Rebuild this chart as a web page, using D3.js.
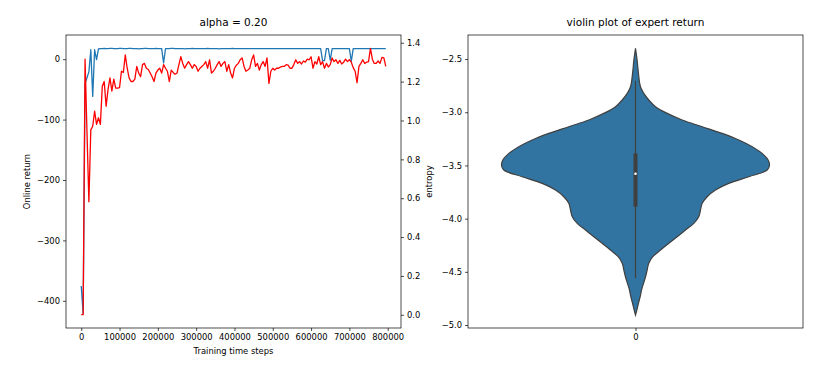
<!DOCTYPE html>
<html>
<head>
<meta charset="utf-8">
<script src="https://cdn.jsdelivr.net/npm/d3@7"></script>
<style>
  body { margin: 0; background: #fff; }
  svg text { font-family: "DejaVu Sans", sans-serif; fill: #000; }
</style>
</head>
<body>
<svg id="chart" width="831" height="370"></svg>
<script>
// ---- data ----
const stepSize = 5000;

// red line, left axis (Online return), one value every 5000 steps
const onlineReturn = [
  -423, -423, 0, -120, -236, -117, -111, -86, -108, -97,
  -108, -45, -37, -78, -50, -31, -53, -33, -48, -48,
  -47, -20, -22, 7, -15, -31, -37, -37, -33, -12,
  -23, -29, -9, -7, -15, -17, -23, -29, -37, -23,
  -18, -15, -23, -9, -15, -20, -37, -18, -22, -25,
  -23, -9, 4, -7, -15, -9, -4, -9, -15, -9,
  -12, -20, -15, -12, -9, -4, -15, -1, -23, -20,
  -15, -9, -4, -12, -7, -4, -20, -9, -23, -31,
  -15, -10, -7, -1, 2, -12, -20, -18, -15, -1,
  7, -12, -7, -18, -9, -4, -12, 2, -40, -20,
  -15, -18, -15, -15, -13, -12, -12, -9, -10, -15,
  -15, -9, -1, -7, -4, -8, -3, -5, 0, -1,
  4, -15, -4, -8, 4, -9, -4, -15, -7, -13,
  -9, 2, -4, -1, -7, -2, -8, -5, 0, -4,
  -1, -5, -14, -20, -39, -12, -7, -1, -7, -5,
  -4, 18, 0, -7, -7, -3, -7, 3, 2, -12
];

// blue line, right axis (entropy)
const entropy = [
  0.148, 0.007, 1.19, 1.22, 1.25, 1.364, 1.124, 1.364, 1.313, 1.368,
  1.370, 1.370, 1.371, 1.370, 1.370, 1.371, 1.371, 1.370, 1.370, 1.370,
  1.371, 1.371, 1.370, 1.370, 1.370, 1.371, 1.371, 1.370, 1.370, 1.370,
  1.369, 1.370, 1.370, 1.371, 1.371, 1.370, 1.370, 1.370, 1.370, 1.371,
  1.370, 1.370, 1.370, 1.296, 1.370, 1.370, 1.370, 1.371, 1.371, 1.370,
  1.370, 1.370, 1.370, 1.370, 1.369, 1.370, 1.370, 1.370, 1.371, 1.370,
  1.370, 1.370, 1.370, 1.370, 1.370, 1.370, 1.371, 1.370, 1.370, 1.370,
  1.370, 1.370, 1.369, 1.370, 1.370, 1.370, 1.370, 1.370, 1.370, 1.371,
  1.370, 1.370, 1.370, 1.370, 1.370, 1.370, 1.370, 1.370, 1.370, 1.370,
  1.370, 1.370, 1.370, 1.370, 1.370, 1.370, 1.370, 1.370, 1.370, 1.370,
  1.370, 1.370, 1.370, 1.370, 1.370, 1.370, 1.370, 1.370, 1.370, 1.370,
  1.370, 1.370, 1.370, 1.370, 1.370, 1.370, 1.370, 1.370, 1.370, 1.370,
  1.370, 1.370, 1.370, 1.370, 1.370, 1.370, 1.308, 1.308, 1.370, 1.370,
  1.310, 1.370, 1.370, 1.370, 1.370, 1.370, 1.370, 1.370, 1.370, 1.370,
  1.370, 1.304, 1.370, 1.370, 1.370, 1.370, 1.370, 1.370, 1.370, 1.370,
  1.370, 1.370, 1.370, 1.370, 1.370, 1.370, 1.370, 1.370, 1.370, 1.370
];

const stepTicks = [0, 100000, 200000, 300000, 400000, 500000, 600000, 700000, 800000];
const returnTicks = [-400, -300, -200, -100, 0];
const entropyTicks = [0, 0.2, 0.4, 0.6, 0.8, 1.0, 1.2, 1.4];

// violin of expert return: outline (value, relative density)
const violinValues = [
  -2.400, -2.509, -2.635, -2.760, -2.823, -2.885, -2.948, -3.011, -3.073, -3.136,
  -3.199, -3.261, -3.324, -3.387, -3.449, -3.496, -3.543, -3.606, -3.669, -3.731,
  -3.794, -3.856, -3.919, -3.982, -4.044, -4.107, -4.170, -4.232, -4.295, -4.358,
  -4.420, -4.483, -4.546, -4.608, -4.671, -4.734, -4.796, -4.859, -4.906
];
const violinDensity = [
  0, 0.012, 0.022, 0.037, 0.062, 0.099, 0.149, 0.237, 0.348, 0.498,
  0.647, 0.771, 0.871, 0.945, 0.990, 1.000, 0.983, 0.846, 0.696, 0.597,
  0.535, 0.498, 0.485, 0.472, 0.435, 0.373, 0.311, 0.249, 0.187, 0.129,
  0.099, 0.087, 0.075, 0.060, 0.045, 0.035, 0.022, 0.010, 0
];
const boxQuartiles = [-3.888, -3.578, -3.387];   // q1, median, q3
const boxWhiskers = [-4.561, -2.704];
const violinTicks = [-2.5, -3.0, -3.5, -4.0, -4.5, -5.0];
const violinCategories = ['0'];

// ---- layout ----
const svg = d3.select('#chart');
const left = { x0: 66, x1: 401, y0: 35, y1: 328 };
const right = { x0: 468, x1: 803, y0: 35, y1: 328 };
const fmtInt = d3.format('d');
const tickFont = 8.4;
const titleFont = 10.5;
const tickLen = 3;
const tickPad = 3;

function styleAxis(g) {
  g.select('.domain').remove();
  g.selectAll('.tick line').attr('stroke', '#000').attr('stroke-width', 0.7);
  g.selectAll('.tick text').attr('font-size', tickFont)
    .attr('font-family', '"DejaVu Sans", sans-serif').attr('fill', '#222');
}

// ---- left panel ----
const x = d3.scaleLinear().domain([-39750, 834750]).range([left.x0, left.x1]);
const yRet = d3.scaleLinear().domain([-445, 40]).range([left.y1, left.y0]);
const yEnt = d3.scaleLinear().domain([-0.068, 1.44]).range([left.y1, left.y0]);

svg.append('defs').append('clipPath').attr('id', 'clipL')
  .append('rect').attr('x', left.x0).attr('y', left.y0)
  .attr('width', left.x1 - left.x0).attr('height', left.y1 - left.y0);

const lineEnt = d3.line().x((d, i) => x(i * stepSize)).y(d => yEnt(d));
const lineRet = d3.line().x((d, i) => x(i * stepSize)).y(d => yRet(d));

const gl = svg.append('g').attr('clip-path', 'url(#clipL)');
gl.append('path').datum(entropy).attr('d', lineEnt)
  .attr('fill', 'none').attr('stroke', '#1f77b4').attr('stroke-width', 1.3)
  .attr('stroke-linejoin', 'round');
gl.append('path').datum(onlineReturn).attr('d', lineRet)
  .attr('fill', 'none').attr('stroke', '#ff0000').attr('stroke-width', 1.3)
  .attr('stroke-linejoin', 'round');

svg.append('g').attr('transform', `translate(0,${left.y1})`)
  .call(d3.axisBottom(x).tickValues(stepTicks).tickFormat(fmtInt).tickSize(tickLen).tickPadding(tickPad))
  .call(styleAxis);
svg.append('g').attr('transform', `translate(${left.x0},0)`)
  .call(d3.axisLeft(yRet).tickValues(returnTicks).tickFormat(fmtInt).tickSize(tickLen).tickPadding(tickPad))
  .call(styleAxis);
svg.append('g').attr('transform', `translate(${left.x1},0)`)
  .call(d3.axisRight(yEnt).tickValues(entropyTicks).tickFormat(d3.format('.1f')).tickSize(tickLen).tickPadding(tickPad))
  .call(styleAxis);

svg.append('rect').attr('x', left.x0).attr('y', left.y0)
  .attr('width', left.x1 - left.x0).attr('height', left.y1 - left.y0)
  .attr('fill', 'none').attr('stroke', '#000').attr('stroke-width', 0.7);

svg.append('text').attr('x', (left.x0 + left.x1) / 2).attr('y', 26)
  .attr('text-anchor', 'middle').attr('font-size', titleFont).text('alpha = 0.20');
svg.append('text').attr('x', (left.x0 + left.x1) / 2).attr('y', 354)
  .attr('text-anchor', 'middle').attr('font-size', tickFont).text('Training time steps');
svg.append('text').attr('transform', `translate(27,${(left.y0 + left.y1) / 2}) rotate(-90)`)
  .attr('text-anchor', 'middle').attr('dominant-baseline', 'central')
  .attr('font-size', tickFont).text('Online return');
svg.append('text').attr('transform', `translate(429,${(left.y0 + left.y1) / 2}) rotate(-90)`)
  .attr('text-anchor', 'middle').attr('dominant-baseline', 'central')
  .attr('font-size', tickFont).text('entropy');

// ---- right panel: violin ----
const xv = d3.scaleLinear().domain([-0.5, 0.5]).range([right.x0, right.x1]);
const yv = d3.scaleLinear().domain([-5.028, -2.274]).range([right.y1, right.y0]);
const halfW = d => d * 0.4 * (xv(1) - xv(0));

const violinPts = violinValues.map((v, i) => ({ v, d: violinDensity[i] }));
const area = d3.area()
  .y(p => yv(p.v))
  .x0(p => xv(0) - halfW(p.d))
  .x1(p => xv(0) + halfW(p.d))
  .curve(d3.curveCatmullRom);

svg.append('path').datum(violinPts).attr('d', area)
  .attr('fill', '#3274a1').attr('stroke', '#3f3f3f').attr('stroke-width', 1.2);

// whisker line and box
svg.append('line').attr('x1', xv(0)).attr('x2', xv(0))
  .attr('y1', yv(boxWhiskers[0])).attr('y2', yv(boxWhiskers[1]))
  .attr('stroke', '#3f3f3f').attr('stroke-width', 1.2);
svg.append('line').attr('x1', xv(0)).attr('x2', xv(0))
  .attr('y1', yv(boxQuartiles[0])).attr('y2', yv(boxQuartiles[2]))
  .attr('stroke', '#3f3f3f').attr('stroke-width', 4);
svg.append('circle').attr('cx', xv(0)).attr('cy', yv(boxQuartiles[1])).attr('r', 1.3)
  .attr('fill', '#fff');

svg.append('g').attr('transform', `translate(0,${right.y1})`)
  .call(d3.axisBottom(xv).tickValues([0]).tickFormat(() => violinCategories[0]).tickSize(tickLen).tickPadding(tickPad))
  .call(styleAxis);
svg.append('g').attr('transform', `translate(${right.x0},0)`)
  .call(d3.axisLeft(yv).tickValues(violinTicks).tickFormat(d3.format('.1f')).tickSize(tickLen).tickPadding(tickPad))
  .call(styleAxis);

svg.append('rect').attr('x', right.x0).attr('y', right.y0)
  .attr('width', right.x1 - right.x0).attr('height', right.y1 - right.y0)
  .attr('fill', 'none').attr('stroke', '#000').attr('stroke-width', 0.7);

svg.append('text').attr('x', (right.x0 + right.x1) / 2).attr('y', 26)
  .attr('text-anchor', 'middle').attr('font-size', titleFont).text('violin plot of expert return');
</script>
</body>
</html>
